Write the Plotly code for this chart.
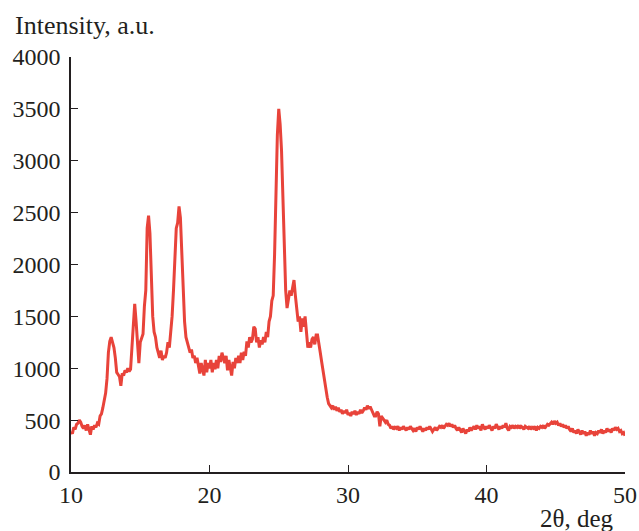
import numpy as np
import plotly.graph_objects as go

# 2-theta grid: 10.0 .. 50.0 deg, step 0.1
theta_start, theta_stop, theta_step = 10.0, 50.0, 0.1

intensity_10_20 = [
    390, 370, 430, 410, 460, 470, 500, 480, 440, 420,
    450, 400, 460, 420, 360, 440, 410, 450, 430, 470,
    460, 540, 560, 620, 680, 760, 900, 1150, 1260, 1300,
    1250, 1200, 1100, 960, 940, 920, 830, 950, 930, 980,
    960, 1000, 970, 990, 1200, 1450, 1620, 1450, 1200, 1050,
    1250, 1300, 1330, 1600, 1750, 2350, 2470, 2300, 1900, 1500,
    1350, 1300, 1200, 1150, 1100, 1170, 1080, 1120, 1100, 1150,
    1250, 1200, 1350, 1500, 1750, 2000, 2350, 2400, 2560, 2450,
    2100, 1700, 1450, 1300, 1250, 1200, 1150, 1180, 1100, 1120,
    1050, 1100, 1000, 950, 1050, 1000, 930, 1080, 960, 1050,
]
intensity_20_30 = [
    1000, 1080, 960, 1050, 990, 1080, 1000, 1120, 1060, 1150,
    1100, 1050, 1120, 980, 1080, 1000, 930, 1060, 1000, 1100,
    1050, 1120, 1050, 1150, 1080, 1160, 1120, 1260, 1200, 1300,
    1250, 1280, 1400, 1380, 1250, 1300, 1200, 1270, 1230, 1300,
    1250, 1350, 1300, 1450, 1500, 1650, 1700, 2100, 2650, 3250,
    3500, 3350, 3100, 2700, 2200, 1750, 1580, 1650, 1750, 1700,
    1780, 1850, 1700, 1600, 1450, 1500, 1350, 1480, 1400, 1500,
    1350, 1200, 1250, 1200, 1280, 1300, 1230, 1320, 1320, 1250,
    1150, 1060, 970, 880, 800, 720, 660, 640, 620, 640,
    600, 630, 590, 620, 580, 600, 560, 590, 570, 600,
]
intensity_30_40 = [
    550, 570, 540, 580, 560, 590, 550, 580, 560, 600,
    570, 590, 620, 600, 640, 610, 630, 600, 560, 540,
    540, 580, 560, 440, 540, 520, 500, 480, 500, 460,
    450, 420, 440, 410, 430, 420, 440, 400, 430, 410,
    440, 420, 400, 430, 410, 440, 420, 400, 420, 390,
    430, 410, 440, 410, 390, 420, 400, 430, 410, 440,
    420, 390, 410, 430, 400, 420, 440, 430, 450, 420,
    440, 460, 450, 470, 440, 460, 430, 450, 420, 400,
    430, 410, 380, 420, 400, 370, 410, 390, 430, 400,
    420, 440, 410, 450, 420, 440, 400, 460, 430, 410,
]
intensity_40_50 = [
    440, 420, 450, 430, 400, 440, 420, 460, 430, 410,
    440, 420, 450, 430, 470, 420, 400, 440, 430, 450,
    420, 440, 430, 450, 420, 440, 430, 410, 440, 430,
    420, 440, 410, 430, 420, 440, 400, 430, 420, 440,
    430, 450, 420, 440, 460, 450, 470, 480, 460, 490,
    470, 480, 450, 470, 440, 460, 430, 450, 420, 440,
    410, 390, 420, 380, 400, 370, 410, 380, 360, 400,
    370, 390, 350, 380, 360, 400, 370, 390, 350, 380,
    370, 400, 380, 410, 370, 400, 380, 420, 390, 410,
    380, 420, 400, 430, 410, 420, 390, 400, 370, 380,
    350,
]

intensity = intensity_10_20 + intensity_20_30 + intensity_30_40 + intensity_40_50
two_theta = np.round(theta_start + theta_step * np.arange(len(intensity)), 1)

x_ticks = [10, 20, 30, 40, 50]
y_ticks = [0, 500, 1000, 1500, 2000, 2500, 3000, 3500, 4000]

FONT = "Liberation Serif"
INK = "#231f20"

fig = go.Figure()
fig.add_trace(go.Scatter(
    x=two_theta, y=intensity, mode="lines",
    line=dict(color="#E8433A", width=3),
    showlegend=False, hoverinfo="skip",
))

axis_common = dict(
    tickmode="array",
    ticks="inside", ticklen=7, tickwidth=1.3, tickcolor=INK,
    showline=True, linecolor=INK, linewidth=1.5,
    showgrid=False, zeroline=False,
    tickfont=dict(family=FONT, size=24, color=INK),
)

fig.update_layout(
    width=639, height=531,
    margin=dict(l=71, r=14, t=57, b=59, autoexpand=False),
    paper_bgcolor="white", plot_bgcolor="white",
    font=dict(family=FONT, size=24, color=INK),
    xaxis=dict(range=[10, 50], tickvals=x_ticks,
               ticktext=[str(v) for v in x_ticks], **axis_common),
    yaxis=dict(range=[0, 4000], tickvals=y_ticks,
               ticktext=[str(v) for v in y_ticks],
               ticklabelstandoff=4, **axis_common),
    annotations=[
        dict(text="Intensity, a.u.", xref="paper", yref="paper",
             x=-0.1047, y=1.0, yshift=32, xanchor="left", yanchor="middle",
             showarrow=False, font=dict(family=FONT, size=26, color=INK)),
        dict(text="2θ, deg", xref="paper", yref="paper",
             x=1.0, y=0, xshift=-9, yshift=-46, xanchor="right", yanchor="middle",
             showarrow=False, font=dict(family=FONT, size=25, color=INK)),
    ],
)

fig.write_html(
    "out.html",
    config={"displayModeBar": False},
    post_script="document.body.style.margin='0';document.body.style.padding='0';",
)
